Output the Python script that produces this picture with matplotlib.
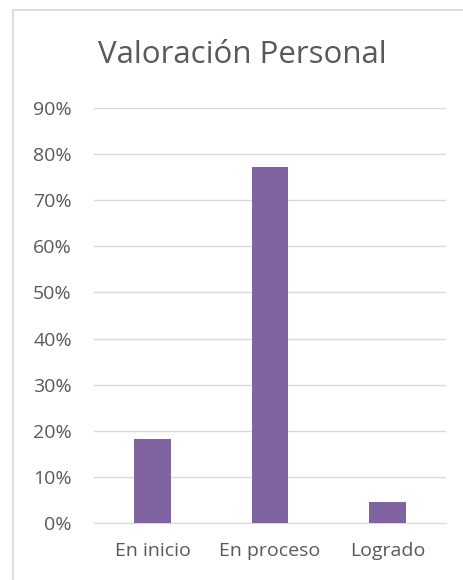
import matplotlib.pyplot as plt
import numpy as np
from matplotlib.lines import Line2D

# datos del grafico
categorias = ['En inicio', 'En proceso', 'Logrado']
valores = [0.182, 0.773, 0.045]
ticks_y = [0.0, 0.1, 0.2, 0.3, 0.4, 0.5, 0.6, 0.7, 0.8, 0.9]

color_barra = '#8064A2'
gris = '#595959'
gris_claro = '#D9D9D9'

plt.rcParams['font.family'] = ['Open Sans', 'DejaVu Sans']

fig = plt.figure(figsize=(4.64, 5.8), dpi=100)
W, H = 464.0, 580.0

# borde del grafico (solo se ve izquierda y arriba)
fig.add_artist(Line2D([13/W, 13/W], [0, 1-10/H], color=gris_claro, lw=1.2))
fig.add_artist(Line2D([13/W, 1], [1-10/H, 1-10/H], color=gris_claro, lw=1.2))

ax = fig.add_axes([94/W, 1-523/H, (446-94)/W, (523-108)/H])
x = np.arange(len(categorias))
ax.bar(x, valores, width=0.315, color=color_barra, zorder=3)

ax.set_ylim(0, 0.9)
ax.set_xlim(-0.5, len(categorias)-0.5)
ax.set_yticks(ticks_y)
ax.set_yticklabels(['%d%%' % round(t*100) for t in ticks_y])
ax.set_xticks(x)
ax.set_xticklabels(categorias)
ax.grid(axis='y', color=gris_claro, lw=1, zorder=0)
for s in ['top', 'right', 'left']:
    ax.spines[s].set_visible(False)
ax.spines['bottom'].set_color(gris_claro)
ax.tick_params(axis='both', length=0, colors=gris, labelsize=14)
ax.tick_params(axis='x', pad=14)
ax.tick_params(axis='y', pad=16)

fig.text(242/W, 1-55/H, 'Valoración Personal', ha='center', va='center',
         fontsize=22.5, color=gris)

fig.savefig('out.png', dpi=100)
